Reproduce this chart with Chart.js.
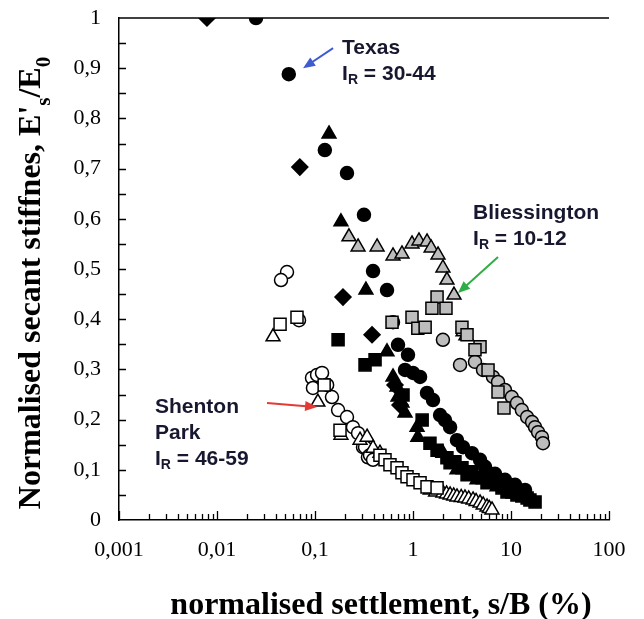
<!DOCTYPE html>
<html>
<head>
<meta charset="utf-8">
<script src="https://cdn.jsdelivr.net/npm/chart.js@4.4.1/dist/chart.umd.min.js"></script>
<style>
  html, body { margin: 0; padding: 0; background: #fff; }
  #wrap { width: 644px; height: 619px; }
</style>
</head>
<body>
<div id="wrap"><canvas id="chart" width="644" height="619"></canvas></div>
<script>
// x = s/B (%), y = E's/E0
const texasDiamonds = [[0.0079, 1.0], [0.070, 0.703], [0.193, 0.444], [0.382, 0.369], [0.655, 0.269], [0.737, 0.229]]
const texasCircles = [[0.025, 1.0], [0.054, 0.888], [0.126, 0.737], [0.212, 0.691], [0.316, 0.608], [0.391, 0.496],
  [0.543, 0.458], [0.625, 0.394], [0.703, 0.349], [0.889, 0.329], [0.829, 0.299], [1.0, 0.293], [1.18, 0.285],
  [1.39, 0.253], [1.6, 0.239], [1.89, 0.209], [2.12, 0.199], [2.39, 0.185], [2.81, 0.159], [3.24, 0.145],
  [4.0, 0.133], [4.83, 0.12], [5.43, 0.106], [6.87, 0.092], [8.68, 0.08], [11.0, 0.07], [13.9, 0.06]]
const texasTriangles = [[0.139, 0.769], [0.184, 0.594], [0.331, 0.458], [0.543, 0.335], [0.625, 0.285], [0.687, 0.265],
  [0.703, 0.245], [0.772, 0.233], [0.829, 0.213], [1.10, 0.185], [1.12, 0.165], [2.02, 0.133], [2.81, 0.10],
  [4.5, 0.08], [7.2, 0.066]]
const texasSquares = [[0.172, 0.359], [0.324, 0.309], [0.41, 0.319], [0.791, 0.249], [1.24, 0.199], [1.49, 0.153],
  [1.76, 0.139], [2.22, 0.124], [2.39, 0.114], [2.68, 0.116], [3.16, 0.104], [3.56, 0.09], [4.0, 0.096],
  [5.06, 0.084], [5.69, 0.074], [6.4, 0.076], [8.09, 0.064], [9.1, 0.056], [10.2, 0.056], [11.5, 0.05],
  [12.9, 0.048], [14.6, 0.044], [15.6, 0.04], [17.6, 0.036]]

const blissTriangles = [[0.222, 0.564], [0.275, 0.544], [0.43, 0.544], [0.625, 0.526], [0.772, 0.53], [0.977, 0.55],
  [1.15, 0.556], [1.39, 0.554], [1.53, 0.542], [1.8, 0.528], [2.02, 0.502], [2.22, 0.478], [2.62, 0.448],
  [3.24, 0.375], [3.47, 0.367]]
const blissSquares = [[1.76, 0.444], [1.56, 0.422], [2.17, 0.422], [0.611, 0.394], [0.977, 0.404], [1.12, 0.382],
  [1.33, 0.384], [3.16, 0.384], [3.56, 0.369], [4.83, 0.345], [4.29, 0.339], [5.83, 0.299], [7.37, 0.255], [8.48, 0.223]]
const blissCircles = [[2.02, 0.359], [3.02, 0.309], [4.29, 0.315], [5.18, 0.299], [6.55, 0.285], [7.37, 0.275],
  [8.68, 0.259], [10.2, 0.245], [11.5, 0.233], [12.9, 0.219], [14.6, 0.205], [16.4, 0.195], [17.6, 0.185],
  [18.9, 0.175], [20.7, 0.165], [21.2, 0.153]]

const shentonCircles = [[0.0518, 0.494], [0.045, 0.478], [0.0687, 0.398], [0.0932, 0.283], [0.105, 0.289],
  [0.118, 0.293], [0.0953, 0.263], [0.133, 0.269], [0.149, 0.245], [0.172, 0.219], [0.212, 0.205], [0.244, 0.185],
  [0.275, 0.173], [0.309, 0.145], [0.324, 0.145], [0.347, 0.125], [0.364, 0.129], [0.391, 0.12]]
const shentonSquares = [[0.044, 0.39], [0.0655, 0.404], [0.124, 0.269], [0.18, 0.179], [0.46, 0.129], [0.518, 0.12],
  [0.582, 0.11], [0.687, 0.104], [0.772, 0.094], [0.869, 0.086], [1.0, 0.08], [1.18, 0.074], [1.39, 0.066], [1.76, 0.064]]
const shentonTriangles = [[0.0373, 0.365], [0.107, 0.235], [0.184, 0.169], [0.288, 0.159], [0.34, 0.165],
  [0.391, 0.143], [0.46, 0.133], [1.5, 0.06], [1.7, 0.056], [2.02, 0.054], [2.2, 0.052], [2.39, 0.05], [2.6, 0.048],
  [2.81, 0.046], [3.1, 0.045], [3.39, 0.044], [3.7, 0.042], [4.1, 0.04], [4.4, 0.037], [4.83, 0.034],
  [5.2, 0.03], [5.69, 0.026], [6.0, 0.023], [6.4, 0.02]]

const xTicks = [0.001, 0.01, 0.1, 1, 10, 100]
const xTickLabels = ['0,001', '0,01', '0,1', '1', '10', '100']
const yTicks = [0, 0.1, 0.2, 0.3, 0.4, 0.5, 0.6, 0.7, 0.8, 0.9, 1]
const yTickLabels = ['0', '0,1', '0,2', '0,3', '0,4', '0,5', '0,6', '0,7', '0,8', '0,9', '1']

// annotation anchors in data units [x, y]
const notes = [
  { at: [0.189, 0.940], lines: [[['Texas', 0]], [['I', 0], ['R', 1], [' = 30-44', 0]]], arrow: [[0.153, 0.940], [0.0755, 0.900]], color: '#3f5bd0' },
  { at: [4.10, 0.612], lines: [[['Bliessington', 0]], [['I', 0], ['R', 1], [' = 10-12', 0]]], arrow: [[7.37, 0.524], [2.88, 0.452]], color: '#2fae45' },
  { at: [0.00233, 0.225], lines: [[['Shenton', 0]], [['Park', 0]], [['I', 0], ['R', 1], [' = 46-59', 0]]], arrow: [[0.0324, 0.233], [0.105, 0.225]], color: '#e23a35' }
]

const GREY = '#bdbdbd'
const series = (label, pts, style, radius, fill) => ({
  label,
  data: pts.map(([x, y]) => ({ x, y })),
  pointStyle: style,
  pointRadius: radius,
  pointHoverRadius: radius,
  backgroundColor: fill,
  borderColor: '#000',
  borderWidth: 1.5,
  showLine: false
})

function richWidth(ctx, parts, size, family) {
  let w = 0
  for (const [t, sub] of parts) {
    ctx.font = `bold ${sub ? Math.round(size * 0.65) : size}px ${family}`
    w += ctx.measureText(t).width
  }
  return w
}
function richText(ctx, parts, x, y, size, family) {
  let cx = x
  for (const [t, sub] of parts) {
    ctx.font = `bold ${sub ? Math.round(size * 0.65) : size}px ${family}`
    ctx.fillText(t, cx, sub ? y + size * 0.3 : y)
    cx += ctx.measureText(t).width
  }
}

const decor = {
  id: 'decor',
  afterDraw(chart) {
    const { ctx, chartArea: a, scales: { x, y } } = chart
    ctx.save()
    ctx.strokeStyle = '#000'
    ctx.lineWidth = 1.5
    ctx.beginPath()
    ctx.moveTo(a.left, a.top); ctx.lineTo(a.right, a.top)
    ctx.stroke()

    // inward tick marks
    ctx.lineWidth = 1.3
    ctx.beginPath()
    for (let i = 1; i < 20; i++) {
      const py = Math.round(y.getPixelForValue(i * 0.05)) + 0.5
      ctx.moveTo(a.left, py); ctx.lineTo(a.left + 7, py)
    }
    for (const d of xTicks) {
      for (let k = 1; k <= 9; k++) {
        const v = d * k
        if (v > 100) break
        const px = Math.round(x.getPixelForValue(v)) + 0.5
        ctx.moveTo(px, a.bottom); ctx.lineTo(px, a.bottom - (k === 1 ? 9 : 6))
      }
    }
    ctx.stroke()

    // annotations
    const fam = '"Liberation Sans", Arial, sans-serif'
    ctx.textBaseline = 'middle'
    ctx.textAlign = 'left'
    ctx.fillStyle = '#17172f'
    for (const n of notes) {
      const px = x.getPixelForValue(n.at[0])
      let py = y.getPixelForValue(n.at[1])
      for (const ln of n.lines) {
        richText(ctx, ln, px, py, 21, fam)
        py += 26
      }
      const [p0, p1] = n.arrow
      const x0 = x.getPixelForValue(p0[0]), y0 = y.getPixelForValue(p0[1])
      const x1 = x.getPixelForValue(p1[0]), y1 = y.getPixelForValue(p1[1])
      const ang = Math.atan2(y1 - y0, x1 - x0)
      ctx.strokeStyle = n.color
      ctx.fillStyle = n.color
      ctx.lineWidth = 2
      ctx.beginPath()
      ctx.moveTo(x0, y0)
      ctx.lineTo(x1 - 8 * Math.cos(ang), y1 - 8 * Math.sin(ang))
      ctx.stroke()
      ctx.beginPath()
      ctx.moveTo(x1, y1)
      ctx.lineTo(x1 - 12 * Math.cos(ang) + 5 * Math.sin(ang), y1 - 12 * Math.sin(ang) - 5 * Math.cos(ang))
      ctx.lineTo(x1 - 12 * Math.cos(ang) - 5 * Math.sin(ang), y1 - 12 * Math.sin(ang) + 5 * Math.cos(ang))
      ctx.closePath()
      ctx.fill()
      ctx.fillStyle = '#17172f'
    }

    // axis titles
    const serif = '"Liberation Serif", "Times New Roman", serif'
    ctx.fillStyle = '#000'
    ctx.textBaseline = 'alphabetic'
    const xt = [['normalised settlement, s/B (%)', 0]]
    const xw = richWidth(ctx, xt, 32, serif)
    richText(ctx, xt, 381 - xw / 2, 614, 32, serif)

    const yt = [["Normalised secant stiffnes, E'", 0], ['s', 1], ['/E', 0], ['0', 1]]
    const yw = richWidth(ctx, yt, 32, serif)
    ctx.translate(40, 283)
    ctx.rotate(-Math.PI / 2)
    richText(ctx, yt, -yw / 2, 0, 32, serif)
    ctx.restore()
  }
}

new Chart(document.getElementById('chart'), {
  type: 'scatter',
  data: {
    datasets: [
      series('Bliessington squares', blissSquares, 'rect', 8.5, GREY),
      series('Bliessington triangles', blissTriangles, 'triangle', 8, GREY),
      series('Bliessington circles', blissCircles, 'circle', 6.5, GREY),
      series('Shenton Park squares', shentonSquares, 'rect', 8.5, '#fff'),
      series('Shenton Park triangles', shentonTriangles, 'triangle', 8, '#fff'),
      series('Shenton Park circles', shentonCircles, 'circle', 6.5, '#fff'),
      series('Texas diamonds', texasDiamonds, 'rectRot', 8, '#000'),
      series('Texas triangles', texasTriangles, 'triangle', 8, '#000'),
      series('Texas squares', texasSquares, 'rect', 8.5, '#000'),
      series('Texas circles', texasCircles, 'circle', 6.5, '#000')
    ]
  },
  options: {
    responsive: false,
    animation: false,
    devicePixelRatio: 1,
    layout: { padding: { top: 18, right: 35, left: 0, bottom: 0 } },
    plugins: { legend: { display: false }, tooltip: { enabled: false } },
    scales: {
      x: {
        type: 'logarithmic',
        min: 0.001,
        max: 100,
        afterBuildTicks: (s) => { s.ticks = xTicks.map((v) => ({ value: v })) },
        afterFit: (s) => { s.height = 99; s.paddingLeft = 0; s.paddingRight = 0 },
        ticks: {
          callback: (v, i) => xTickLabels[i],
          autoSkip: false,
          maxRotation: 0,
          padding: 17,
          color: '#000',
          font: { family: '"Liberation Serif", serif', size: 22 }
        },
        grid: { display: false, drawTicks: false },
        border: { display: true, color: '#000', width: 1.5 }
      },
      y: {
        min: 0,
        max: 1,
        afterBuildTicks: (s) => { s.ticks = yTicks.map((v) => ({ value: v })) },
        afterFit: (s) => { s.width = 119; s.paddingTop = 0; s.paddingBottom = 0 },
        ticks: {
          callback: (v, i) => yTickLabels[i],
          padding: 18,
          color: '#000',
          font: { family: '"Liberation Serif", serif', size: 22 }
        },
        grid: { display: false, drawTicks: false },
        border: { display: true, color: '#000', width: 1.5 }
      }
    }
  },
  plugins: [decor]
})
</script>
</body>
</html>
